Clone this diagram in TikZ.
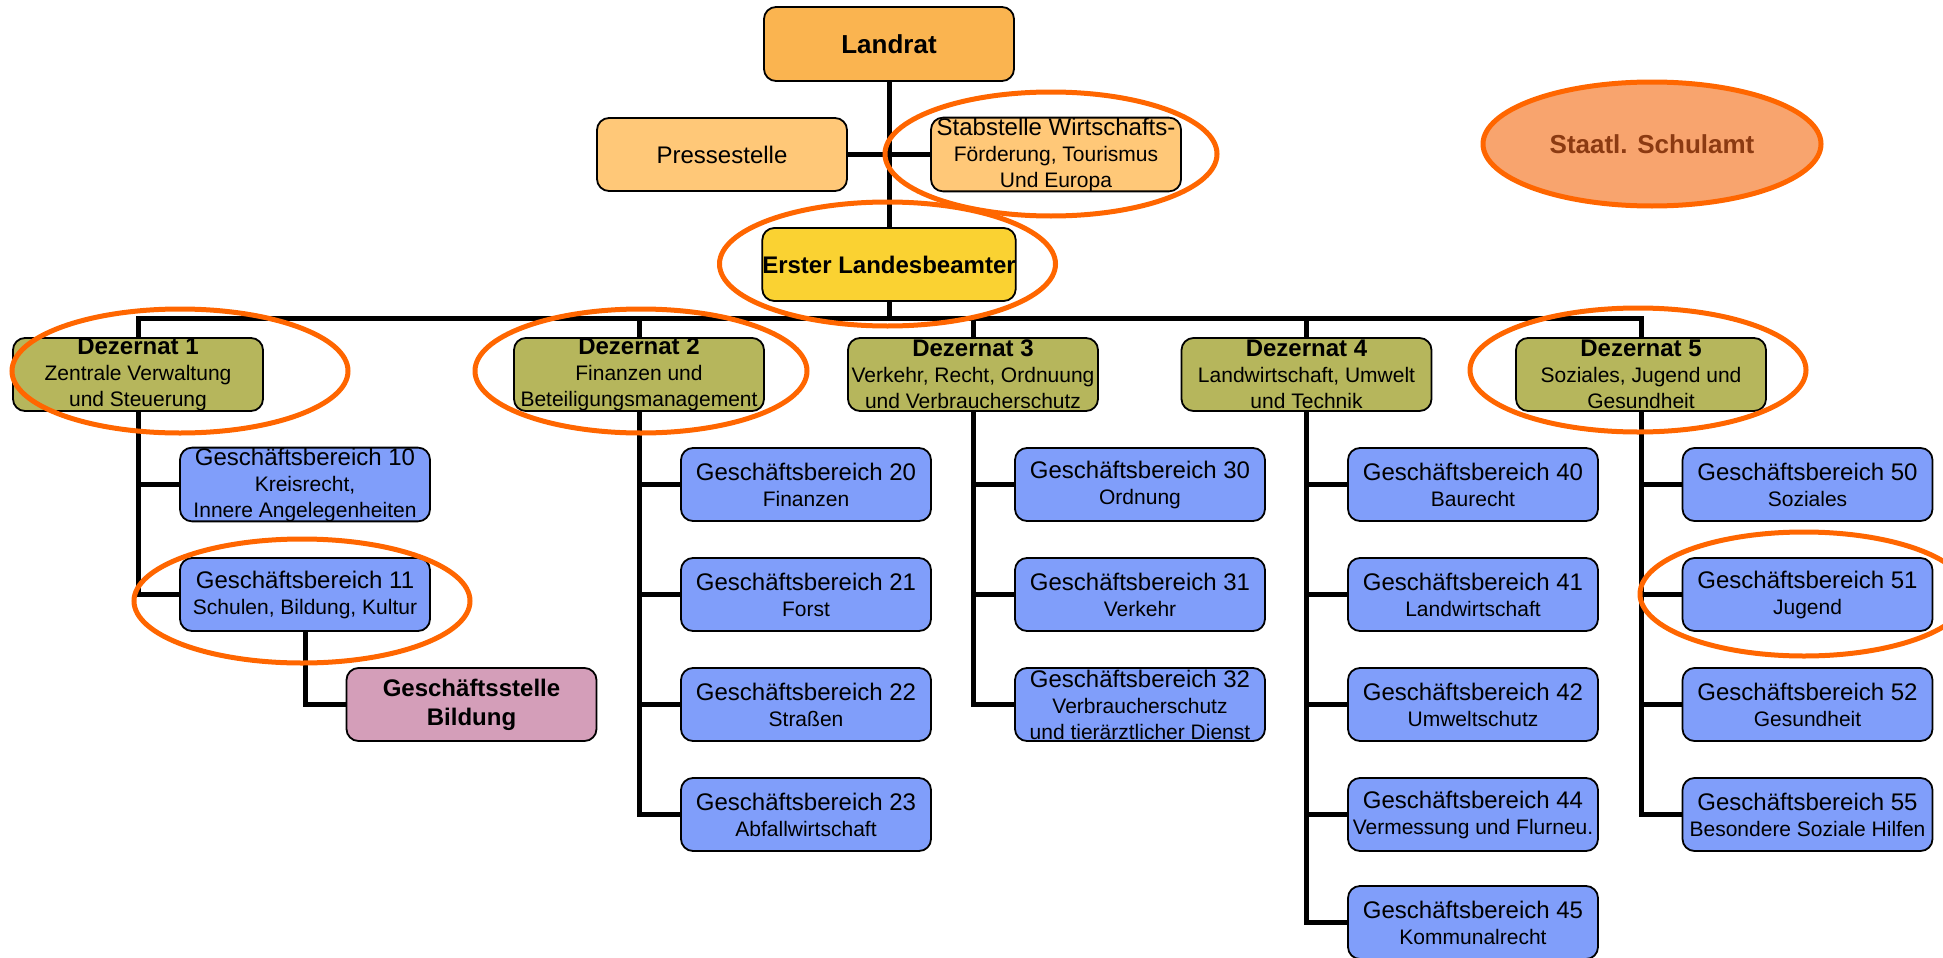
\documentclass[tikz,border=0pt]{standalone}
\usepackage{fontspec}
\setmainfont{Liberation Sans}
\usetikzlibrary{shapes.geometric,backgrounds}
\definecolor{landratc}{RGB}{250,180,80}
\definecolor{pressec}{RGB}{255,200,120}
\definecolor{ersterc}{RGB}{250,210,50}
\definecolor{dezc}{RGB}{182,182,92}
\definecolor{geschc}{RGB}{128,158,250}
\definecolor{gstc}{RGB}{212,158,185}
\definecolor{schulc}{RGB}{248,164,110}
\definecolor{schultext}{RGB}{139,58,18}
\definecolor{markc}{RGB}{255,102,0}
\newcommand\Tbig[1]{{\fontsize{24}{26}\selectfont #1}}
\tikzset{
  orgbox/.style={draw=black, line width=1.8pt, rounded corners=12pt, align=center,
    inner sep=0pt, minimum width=250pt, minimum height=73pt,
    font=\fontsize{21}{26}\selectfont},
  topbox/.style={orgbox, fill=pressec},
  dezbox/.style={orgbox, fill=dezc},
  gbox/.style={orgbox, fill=geschc},
  conn/.style={line width=5pt, draw=black},
  hilite/.style={draw=markc, line width=5pt},
}
\begin{document}
\begin{tikzpicture}[x=1pt,y=-1pt]
\useasboundingbox (0,0) rectangle (1943,958);
\clip (0,0) rectangle (1943,958);
% top level
\node[topbox, fill=landratc, minimum height=74pt, font=\bfseries\fontsize{26}{28}\selectfont] (landrat) at (889,44) {Landrat};
\node[topbox] (presse) at (722,154.5) {\Tbig{Pressestelle}};
\node[topbox] (stab) at (1056,154.5) {\Tbig{Stabstelle Wirtschafts-}\\Förderung, Tourismus\\Und Europa};
\node[topbox, fill=ersterc, font=\bfseries\fontsize{24}{26}\selectfont] (erster) at (889,264.5) {Erster Landesbeamter};
\node[ellipse, draw=markc, line width=5pt, fill=schulc, minimum width=338pt, minimum height=124pt, inner sep=0pt,
  text=schultext, font=\bfseries\fontsize{26}{28}\selectfont] (schulamt) at (1652,144) {Staatl. Schulamt};
% Dezernate
\node[dezbox] (d1) at (138,374.5) {\textbf{\Tbig{Dezernat 1}}\\Zentrale Verwaltung\\und Steuerung};
\node[dezbox] (d2) at (639,374.5) {\textbf{\Tbig{Dezernat 2}}\\Finanzen und\\Beteiligungsmanagement};
\node[dezbox] (d3) at (973,374.5) {\textbf{\Tbig{Dezernat 3}}\\Verkehr, Recht, Ordnuung\\und Verbraucherschutz};
\node[dezbox] (d4) at (1306.5,374.5) {\textbf{\Tbig{Dezernat 4}}\\Landwirtschaft, Umwelt\\und Technik};
\node[dezbox] (d5) at (1641,374.5) {\textbf{\Tbig{Dezernat 5}}\\Soziales, Jugend und\\Gesundheit};
% Geschaeftsbereiche
\node[gbox] (g10) at (305,484.5) {\Tbig{Geschäftsbereich 10}\\Kreisrecht,\\Innere Angelegenheiten};
\node[gbox] (g11) at (305,594.5) {\Tbig{Geschäftsbereich 11}\\Schulen, Bildung, Kultur};
\node[orgbox, fill=gstc, font=\bfseries\fontsize{24}{29}\selectfont] (gst) at (471.5,704.5) {Geschäftsstelle\\Bildung};
\node[gbox] (g20) at (806,484.5) {\Tbig{Geschäftsbereich 20}\\Finanzen};
\node[gbox] (g21) at (806,594.5) {\Tbig{Geschäftsbereich 21}\\Forst};
\node[gbox] (g22) at (806,704.5) {\Tbig{Geschäftsbereich 22}\\Straßen};
\node[gbox] (g23) at (806,814.5) {\Tbig{Geschäftsbereich 23}\\Abfallwirtschaft};
\node[gbox] (g30) at (1140,484.5) {\Tbig{Geschäftsbereich 30}\\Ordnung};
\node[gbox] (g31) at (1140,594.5) {\Tbig{Geschäftsbereich 31}\\Verkehr};
\node[gbox] (g32) at (1140,704.5) {\Tbig{Geschäftsbereich 32}\\Verbraucherschutz\\und tierärztlicher Dienst};
\node[gbox] (g40) at (1473,484.5) {\Tbig{Geschäftsbereich 40}\\Baurecht};
\node[gbox] (g41) at (1473,594.5) {\Tbig{Geschäftsbereich 41}\\Landwirtschaft};
\node[gbox] (g42) at (1473,704.5) {\Tbig{Geschäftsbereich 42}\\Umweltschutz};
\node[gbox] (g44) at (1473,814.5) {\Tbig{Geschäftsbereich 44}\\Vermessung und Flurneu.};
\node[gbox] (g45) at (1473,922.5) {\Tbig{Geschäftsbereich 45}\\Kommunalrecht};
\node[gbox] (g50) at (1807.5,484.5) {\Tbig{Geschäftsbereich 50}\\Soziales};
\node[gbox] (g51) at (1807.5,594.5) {\Tbig{Geschäftsbereich 51}\\Jugend};
\node[gbox] (g52) at (1807.5,704.5) {\Tbig{Geschäftsbereich 52}\\Gesundheit};
\node[gbox] (g55) at (1807.5,814.5) {\Tbig{Geschäftsbereich 55}\\Besondere Soziale Hilfen};
% connectors
\coordinate (bus) at (889,318);
\begin{scope}[on background layer]
\draw[conn] (landrat.south) -- (erster.north);
\draw[conn] (presse.east) -- (stab.west);
\draw[conn] (erster.south) -- (bus);
\draw[conn] (d1.north) -- (d1.north |- bus) -- (d5.north |- bus) -- (d5.north);
\draw[conn] (d2.north |- bus) -- (d2.north);
\draw[conn] (d3.north |- bus) -- (d3.north);
\draw[conn] (d4.north |- bus) -- (d4.north);
\draw[conn] (d1.south) |- (g11.west);
\draw[conn] (d1.south |- g10.west) -- (g10.west);
\draw[conn] (g11.south) |- (gst.west);
\draw[conn] (d2.south) |- (g23.west);
\draw[conn] (d2.south |- g20.west) -- (g20.west);
\draw[conn] (d2.south |- g21.west) -- (g21.west);
\draw[conn] (d2.south |- g22.west) -- (g22.west);
\draw[conn] (d3.south) |- (g32.west);
\draw[conn] (d3.south |- g30.west) -- (g30.west);
\draw[conn] (d3.south |- g31.west) -- (g31.west);
\draw[conn] (d4.south) |- (g45.west);
\draw[conn] (d4.south |- g40.west) -- (g40.west);
\draw[conn] (d4.south |- g41.west) -- (g41.west);
\draw[conn] (d4.south |- g42.west) -- (g42.west);
\draw[conn] (d4.south |- g44.west) -- (g44.west);
\draw[conn] (d5.south) |- (g55.west);
\draw[conn] (d5.south |- g50.west) -- (g50.west);
\draw[conn] (d5.south |- g51.west) -- (g51.west);
\draw[conn] (d5.south |- g52.west) -- (g52.west);
\end{scope}
% highlight ellipses
\draw[hilite] (1051,154) ellipse [x radius=166, y radius=62];
\draw[hilite] (887.5,264) ellipse [x radius=168, y radius=62];
\draw[hilite] (180,371) ellipse [x radius=168, y radius=62];
\draw[hilite] (641,371) ellipse [x radius=166, y radius=62];
\draw[hilite] (1638,370) ellipse [x radius=168, y radius=62];
\draw[hilite] (302,601) ellipse [x radius=168, y radius=62];
\draw[hilite] (1804,594) ellipse [x radius=164, y radius=62];
\end{tikzpicture}
\end{document}
